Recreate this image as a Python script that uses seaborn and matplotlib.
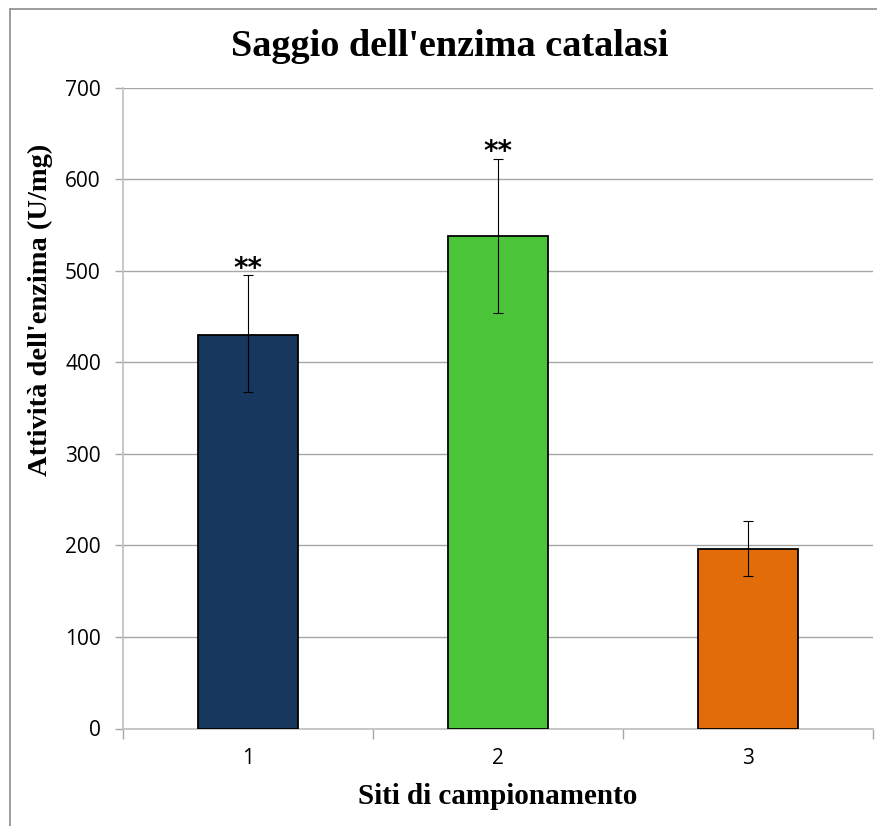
import matplotlib
matplotlib.use("Agg")
import matplotlib.pyplot as plt
from matplotlib.lines import Line2D
import seaborn as sns
import pandas as pd

# Data
sites = ["1", "2", "3"]
activity = [430, 538, 196]
err_low = [63, 84, 30]
err_high = [65, 84, 31]
significance = ["**", "**", ""]
bar_colors = ["#17375E", "#4CC43A", "#E36C0A"]
y_ticks = [0, 100, 200, 300, 400, 500, 600, 700]

sns.set_theme(style="white")
plt.rcParams["font.family"] = ["Open Sans", "DejaVu Sans"]
plt.rcParams["text.color"] = "black"
plt.rcParams["axes.labelcolor"] = "black"

df = pd.DataFrame({"site": sites, "activity": activity})

fig = plt.figure(figsize=(8.77, 8.26), dpi=100)
ax = fig.add_axes([123 / 877, (826 - 728.5) / 826, (873 - 123) / 877, (728.5 - 87.5) / 826])

sns.barplot(data=df, x="site", y="activity", hue="site", order=sites,
            palette=bar_colors, legend=False, width=0.4, saturation=1,
            edgecolor="black", linewidth=1.3, errorbar=None, ax=ax, zorder=3)

pos = list(range(len(sites)))
ax.errorbar(pos, activity, yerr=[err_low, err_high], fmt="none",
            ecolor="black", elinewidth=0.8, capsize=3.5, capthick=0.8, zorder=4)

for p, v, eh, s in zip(pos, activity, err_high, significance):
    if s:
        ax.text(p, v + eh - 8, s, ha="center", va="bottom", fontsize=20,
                family=["DejaVu Sans"], fontweight="bold", color="black")

ax.set_ylim(0, 700)
ax.set_xlim(-0.5, 2.5)
ax.set_yticks(y_ticks)
ax.yaxis.grid(True, color="#A6A6A6", linewidth=1)
ax.set_axisbelow(True)
for side in ["top", "right"]:
    ax.spines[side].set_visible(False)
for side in ["left", "bottom"]:
    ax.spines[side].set_color("#BFBFBF")
    ax.spines[side].set_linewidth(1.2)
ax.tick_params(axis="y", length=6, color="#A6A6A6", width=1, labelsize=15, pad=10,
               left=True, labelcolor="black")
ax.tick_params(axis="x", length=0, labelsize=15, pad=14, labelcolor="black")
# category boundary ticks
ax.set_xticks([-0.5, 0.5, 1.5, 2.5], minor=True)
ax.tick_params(axis="x", which="minor", length=7, color="#A6A6A6", width=1, bottom=True)

ax.set_xlabel("Siti di campionamento", family=["Liberation Serif"], fontweight="bold",
              fontsize=21, color="black")
ax.xaxis.set_label_coords(0.5, -(797 - 728.5) / 641)
ax.xaxis.label.set_va("center")
ax.set_ylabel("Attività dell'enzima (U/mg)", family=["Liberation Serif"], fontweight="bold",
              fontsize=20.5, color="black")
ax.yaxis.set_label_coords(-(123 - 40) / 750, (728.5 - 310) / 641)
ax.yaxis.label.set_va("center")
fig.text(450 / 877, 1 - 46 / 826, "Saggio dell'enzima catalasi", family=["Liberation Serif"],
         fontweight="bold", fontsize=27.5, ha="center", va="center", color="black")

# outer chart frame
fig.add_artist(Line2D([9.5 / 877, 9.5 / 877], [0, 1 - 9 / 826], transform=fig.transFigure,
                      color="#8C8C8C", linewidth=1.2))
fig.add_artist(Line2D([9.5 / 877, 1], [1 - 9 / 826, 1 - 9 / 826], transform=fig.transFigure,
                      color="#8C8C8C", linewidth=1.2))

fig.savefig("out.png", dpi=100)
